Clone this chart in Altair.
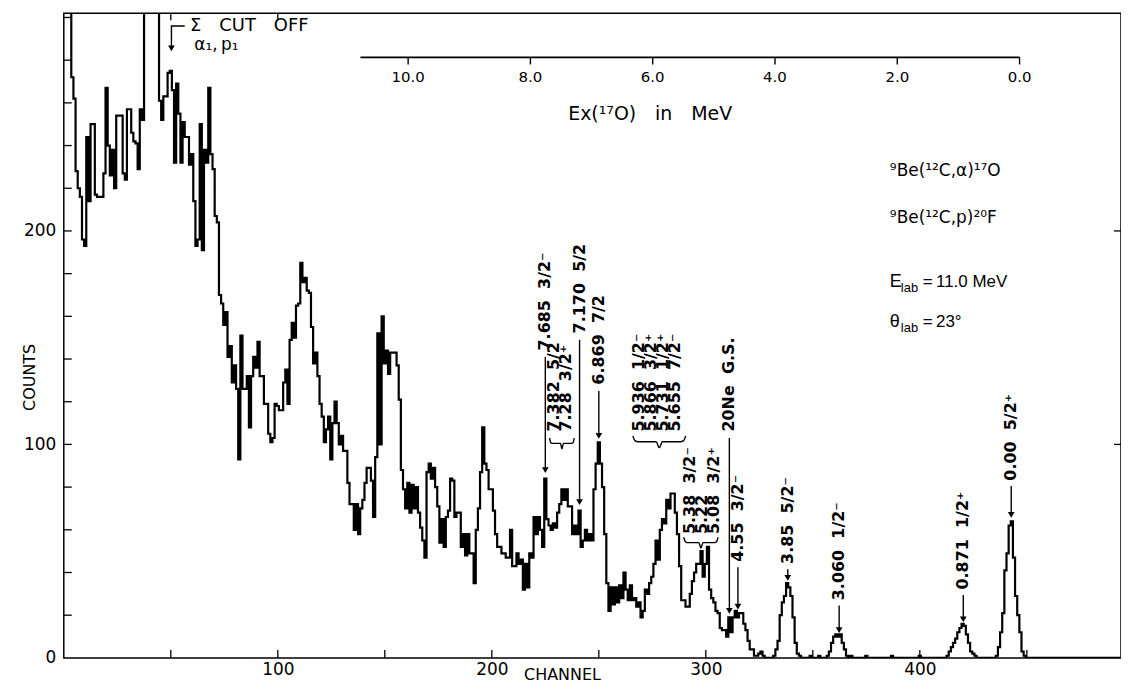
import altair as alt
import pandas as pd

FONT = "DejaVu Sans"
FONT2 = "Liberation Sans, DejaVu Sans"

# ---------------- spectrum (counts per channel, starting at channel 0) ----------------
FIRST_CHANNEL = 0
counts = [
    400, 400, 400, 400, 272, 262, 228, 220, 216, 196,
    193, 244, 214, 250, 250, 217, 216, 216, 216, 227,
    267, 240, 226, 238, 220, 254, 254, 254, 227, 224,
    257, 257, 246, 242, 241, 229, 257, 252, 400, 400,
    400, 400, 400, 400, 400, 261, 252, 263, 263, 274,
    275, 266, 232, 269, 255, 232, 251, 244, 244, 231,
    236, 214, 193, 196, 250, 191, 238, 232, 267, 236,
    229, 207, 204, 170, 166, 156, 162, 141, 146, 129,
    137, 126, 93, 151, 126, 126, 132, 108, 132, 141,
    136, 148, 132, 132, 119, 119, 105, 101, 103, 119,
    118, 116, 116, 129, 135, 119, 149, 157, 150, 165,
    166, 185, 176, 178, 172, 171, 155, 138, 143, 132,
    119, 113, 101, 107, 113, 93, 110, 120, 110, 100,
    104, 97, 97, 82, 72, 72, 60, 72, 58, 70,
    74, 82, 89, 89, 83, 66, 94, 152, 100,
    160, 138, 144, 133, 143, 143, 143, 137, 121, 88,
    79, 70, 82, 68, 81, 70, 80, 68, 61, 55,
    47, 87, 91, 84, 89, 80, 71, 54, 65, 52,
    66, 69, 84, 83, 66, 68, 68, 52, 58, 48,
    58, 49, 49, 35, 60, 70, 87, 108, 91, 88,
    79, 79, 69, 58, 52, 52, 49, 49, 47, 47, 60, 43, 43,
    49, 44, 46, 32, 44, 33, 49, 47, 66, 58,
    66, 60, 52, 84, 65, 62, 60, 63, 61, 68,
    72, 79, 74, 79, 71, 71, 58, 62, 58, 69,
    52, 55, 60, 55, 58, 55, 79, 91, 101, 91,
    80, 58, 35, 22, 33, 25, 33, 26, 34, 28,
    40, 32, 27, 34, 27, 28, 24, 26, 19, 22,
    32, 30, 35, 38, 44, 55, 46, 60, 65, 63,
    74, 70, 77, 77, 68, 58, 43, 27, 27, 24,
    24, 30, 36, 40, 44, 44, 50, 38,
    44, 52, 32, 28, 26, 22, 21, 14, 13, 13,
    10, 19, 12, 19, 22, 19, 21, 21, 16, 13,
    8, 4, 4, 1, 1, 2, 3, 1, 0, 0, 0,
    0, 1, 4, 8, 20, 26, 29, 35, 33, 29,
    19, 7, 2, 1, 0, 0, 0, 0, 1, 0, 0, 0,
    1, 0, 0, 0, 1, 3, 7, 10, 11, 10,
    11, 7, 4, 1, 0, 1, 0, 0, 0,
    0, 0, 0, 1, 0, 0, 0, 0, 0, 0,
    0, 0, 0, 0, 0, 1, 0, 0, 0, 0,
    0, 0, 0, 0, 0, 0, 0, 0, 1, 0,
    0, 0, 0, 0, 0, 0, 0, 0, 0, 0,
    0, 1, 3, 5, 7, 9, 12, 14, 16, 15,
    11, 7, 3, 2, 1, 0, 0, 0, 0,
    0, 0, 0, 0, 0, 1, 5, 12, 21, 41,
    49, 62, 64, 47, 29, 20, 12, 3, 1, 0,
    0, 0, 0, 0, 0, 0, 0, 0, 0, 0,
    0, 0, 0, 0, 0, 0, 0, 0, 0, 0,
    0, 0, 0, 0, 0, 0, 0, 0, 0, 0,
    0, 0, 0, 0, 0, 0, 0, 0, 0, 0,
    0, 0, 0, 0,
]
channels = list(range(FIRST_CHANNEL, FIRST_CHANNEL + len(counts)))

X_DOMAIN = [0, 494]
Y_DOMAIN = [0, 302]
x_ticks = [100, 200, 300, 400]
y_ticks = [0, 100, 200]

# ---------------- level labels ----------------
GAP = "\u2002\u2009"
level_text = ["7.685" + GAP + "3/2\u207b", "7.382" + GAP + "5/2", "7.28" + GAP + "3/2\u207a",
              "7.170" + GAP + "5/2", "6.869" + GAP + "7/2", "5.936" + GAP + "1/2\u207b",
              "5.866" + GAP + "3/2\u207a", "5.731" + GAP + "1/2\u207a", "5.655" + GAP + "7/2\u207b",
              "5.38" + GAP + "3/2\u207b", "5.22", "5.08" + GAP + "3/2\u207a",
              "20Ne" + GAP + "G.S.", "4.55" + GAP + "3/2\u207b", "3.85" + GAP + "5/2\u207b",
              "3.060" + GAP + "1/2\u207b", "0.871" + GAP + "1/2\u207a", "0.00" + GAP + "5/2\u207a"]
level_channel = [225, 229.2, 234.8, 241, 250, 269, 274.6, 280.2, 285.8,
                 292.5, 298.1, 303.9, 311, 315, 338.3, 362.3, 420.3, 442.7]
level_count = [144, 106, 106, 152, 128, 106, 106, 106, 106,
               58, 58, 58, 106, 45, 44, 27, 32, 83]

arrow_channel = [225, 241, 250, 311, 315, 338.3, 362.3, 420.3, 442.7]
arrow_top = [141, 149, 125, 103, 42.5, 41.5, 24.5, 29.5, 80.5]
arrow_tip = [88, 73, 104, 22, 24, 37.5, 13, 18, 67]

brace_left = [227, 265.9, 289.7]
brace_right = [238.5, 290.6, 305.7]
brace_top = [103, 104, 56.5]
brace_depth = [5, 5.5, 5]
brace_u = [0, 0.04, 0.1, 0.44, 0.5, 0.56, 0.9, 0.96, 1]
brace_v = [0, 0.4, 0.5, 0.5, 1.0, 0.5, 0.5, 0.4, 0]

# ---------------- Ex(17O) scale ----------------
ex_ticks = [10.0, 8.0, 6.0, 4.0, 2.0, 0.0]
ex_tick_labels = ["10.0", "8.0", "6.0", "4.0", "2.0", "0.0"]
EX_ZERO_CHANNEL = 446.6
CHANNELS_PER_MEV = 28.57
EX_LINE_START = 10.78
EX_LINE_COUNT = 281.3
EX_TICK_END = 278.0
EX_LABEL_COUNT = 272.0
EX_TITLE_COUNT = 255.0
EX_TITLE_CHANNEL = 274

left_tick_counts = [20, 40, 60, 80, 100, 120, 140, 160, 180, 200, 220, 240, 260, 280, 300]
right_tick_counts = [100, 200]
bottom_tick_channels = [50, 100, 150, 200, 250, 300, 350, 400, 450]
top_tick_channels = [50, 100]

W, H = 1061, 647

xs = alt.Scale(domain=X_DOMAIN, nice=False, zero=False)
ys = alt.Scale(domain=Y_DOMAIN, nice=False, zero=False)


def X(f):
    return alt.X(f, type="quantitative", scale=xs, title="CHANNEL")


def Y(f):
    return alt.Y(f, type="quantitative", scale=ys, title="COUNTS")


spec_df = pd.DataFrame({"channel": channels, "counts": counts})
spectrum = alt.Chart(spec_df).mark_line(
    interpolate="step", color="black", strokeWidth=2.2, clip=True
).encode(
    x=alt.X("channel:Q", scale=xs, title="CHANNEL",
            axis=alt.Axis(values=x_ticks, ticks=False, domain=False, grid=False,
                          labelFont=FONT, labelFontSize=17, labelPadding=4, labelColor="black",
                          titleFont=FONT, titleFontSize=16, titleFontWeight="normal",
                          titleColor="black", titleX=500, titleY=22, titleBaseline="alphabetic",
                          titleAlign="center")),
    y=alt.Y("counts:Q", scale=ys, title="COUNTS",
            axis=alt.Axis(values=y_ticks, ticks=False, domain=False, grid=False,
                          labelFont=FONT, labelFontSize=17, labelPadding=8, labelColor="black",
                          titleFont=FONT, titleFontSize=16, titleFontWeight="normal",
                          titleColor="black", titleX=-34, titleY=365, titleAngle=270,
                          titleAlign="center", titleBaseline="middle")),
)

# frame ticks
lt = alt.Chart(pd.DataFrame({"v": left_tick_counts})).mark_rule(color="black", strokeWidth=1.3).encode(
    x=alt.value(0), x2=alt.value(8), y=Y("v"))
rt = alt.Chart(pd.DataFrame({"v": right_tick_counts})).mark_rule(color="black", strokeWidth=1.3).encode(
    x=alt.value(W - 7), x2=alt.value(W), y=Y("v"))
bt = alt.Chart(pd.DataFrame({"c": bottom_tick_channels})).mark_rule(color="black", strokeWidth=1.3).encode(
    x=X("c"), y=alt.value(H), y2=alt.value(H - 8))
tt = alt.Chart(pd.DataFrame({"c": top_tick_channels})).mark_rule(color="black", strokeWidth=1.3).encode(
    x=X("c"), y=alt.value(0), y2=alt.value(7))

# level labels
lab_df = pd.DataFrame({"t": level_text, "c": level_channel, "n": level_count})
labels = alt.Chart(lab_df).mark_text(
    angle=270, align="left", baseline="middle", font=FONT, fontSize=16, fontWeight="bold", color="black"
).encode(x=X("c"), y=Y("n"), text="t:N")

arr_df = pd.DataFrame({"c": arrow_channel, "top": arrow_top, "tip": arrow_tip})
arrows = alt.Chart(arr_df).mark_rule(color="black", strokeWidth=1.4).encode(
    x=X("c"), y=Y("top"), y2=alt.Y2("tip"))
heads = alt.Chart(arr_df).mark_point(
    shape="triangle-down", filled=True, size=45, color="black", opacity=1
).encode(x=X("c"), y=Y("tip"))

brace_rows = []
for i in range(len(brace_left)):
    for u, v in zip(brace_u, brace_v):
        brace_rows.append({"b": i, "u": u,
                           "c": brace_left[i] + u * (brace_right[i] - brace_left[i]),
                           "n": brace_top[i] - v * brace_depth[i]})
braces = alt.Chart(pd.DataFrame(brace_rows)).mark_line(
    color="black", strokeWidth=1.4, interpolate="monotone"
).encode(x=X("c"), y=Y("n"), detail="b:N", order="u:Q")

# Ex(17O) axis drawn inside the frame
ex_ch = [EX_ZERO_CHANNEL - CHANNELS_PER_MEV * e for e in ex_ticks]
ex_line = alt.Chart(pd.DataFrame({
    "c1": [EX_ZERO_CHANNEL - CHANNELS_PER_MEV * EX_LINE_START], "c2": [EX_ZERO_CHANNEL], "n": [EX_LINE_COUNT]
})).mark_rule(color="black", strokeWidth=1.6).encode(x=X("c1"), x2=alt.X2("c2"), y=Y("n"))
ex_tk = alt.Chart(pd.DataFrame({"c": ex_ch, "n1": [EX_LINE_COUNT] * 6, "n2": [EX_TICK_END] * 6})).mark_rule(
    color="black", strokeWidth=1.4).encode(x=X("c"), y=Y("n1"), y2=alt.Y2("n2"))
ex_lab = alt.Chart(pd.DataFrame({"c": ex_ch, "t": ex_tick_labels, "n": [EX_LABEL_COUNT] * 6})).mark_text(
    font=FONT, fontSize=15, align="center", baseline="middle", color="black"
).encode(x=X("c"), y=Y("n"), text="t:N")
ex_title = alt.Chart(pd.DataFrame({"c": [EX_TITLE_CHANNEL], "n": [EX_TITLE_COUNT],
                                   "t": ["Ex(\u00b9\u2077O)\u2003in\u2003MeV"]})).mark_text(
    font=FONT, fontSize=19, align="center", baseline="middle", color="black"
).encode(x=X("c"), y=Y("n"), text="t:N")

# sum cut-off marker
SIG_CH = 50.3
SIG_COUNT = 296.0
sig_path = alt.Chart(pd.DataFrame({"o": [0, 1, 2], "c": [56.5, SIG_CH, SIG_CH],
                                   "n": [SIG_COUNT, SIG_COUNT, 286.5]})).mark_line(
    color="black", strokeWidth=1.4).encode(x=X("c"), y=Y("n"), order="o:Q")
sig_head = alt.Chart(pd.DataFrame({"c": [SIG_CH], "n": [285.5]})).mark_point(
    shape="triangle-down", filled=True, size=45, color="black", opacity=1).encode(x=X("c"), y=Y("n"))
sig_txt = alt.Chart(pd.DataFrame({"c": [59], "n": [SIG_COUNT],
                                  "t": ["\u03a3\u2003CUT\u2003OFF"]})).mark_text(
    font=FONT, fontSize=18, align="left", baseline="middle", color="black"
).encode(x=X("c"), y=Y("n"), text="t:N")
alpha_txt = alt.Chart(pd.DataFrame({"c": [61], "n": [287], "t": ["\u03b1\u2081,\u2009p\u2081"]})).mark_text(
    font=FONT, fontSize=17, align="left", baseline="middle", color="black"
).encode(x=X("c"), y=Y("n"), text="t:N")

# reaction block
RX = 386
react = alt.Chart(pd.DataFrame({
    "c": [RX, RX], "n": [228, 206],
    "t": ["\u2079Be(\u00b9\u00b2C,\u03b1)\u00b9\u2077O", "\u2079Be(\u00b9\u00b2C,p)\u00b2\u2070F"]
})).mark_text(font=FONT, fontSize=17, align="left", baseline="middle", color="black").encode(
    x=X("c"), y=Y("n"), text="t:N")
main_sym = alt.Chart(pd.DataFrame({"c": [RX, RX], "n": [176, 157.5], "t": ["E", "\u03b8"]})).mark_text(
    font=FONT2, fontSize=18, align="left", baseline="middle", color="black").encode(
    x=X("c"), y=Y("n"), text="t:N")
sub_lab = alt.Chart(pd.DataFrame({"c": [RX, RX], "n": [176, 157.5], "t": ["lab", "lab"]})).mark_text(
    font=FONT2, fontSize=13, align="left", baseline="middle", color="black", dx=11, dy=6).encode(
    x=X("c"), y=Y("n"), text="t:N")
rhs = alt.Chart(pd.DataFrame({"c": [RX, RX], "n": [176, 157.5],
                              "t": ["=\u200911.0 MeV", "=\u200923\u00b0"]})).mark_text(
    font=FONT2, fontSize=17, align="left", baseline="middle", color="black", dx=33).encode(
    x=X("c"), y=Y("n"), text="t:N")

chart = alt.layer(
    spectrum, lt, rt, bt, tt, labels, arrows, heads, braces,
    ex_line, ex_tk, ex_lab, ex_title, sig_path, sig_head, sig_txt, alpha_txt,
    react, main_sym, sub_lab, rhs
).properties(
    width=W, height=H,
    padding={"left": 56, "top": 4, "right": 0, "bottom": 26},
    autosize=alt.AutoSizeParams(type="none"),
    background="white",
).configure_view(stroke="black", strokeWidth=1.5)

chart.save("out.html", embed_options={"renderer": "svg", "actions": False})
